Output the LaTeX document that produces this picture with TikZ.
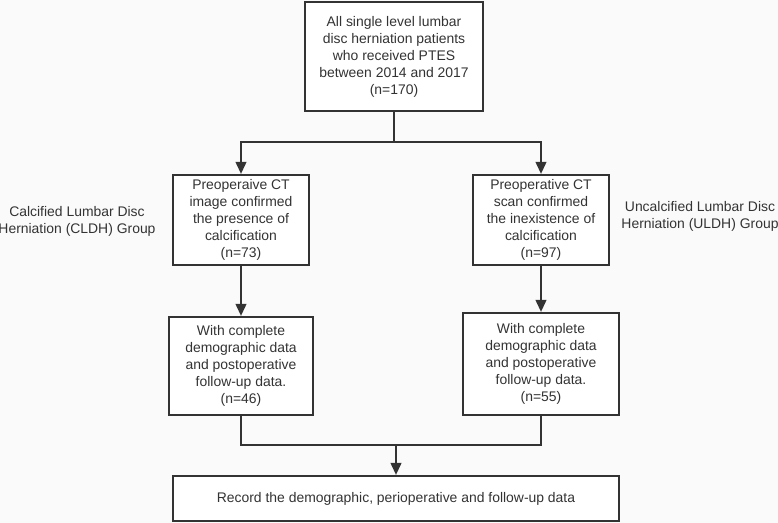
\documentclass[tikz,border=0pt]{standalone}
\usepackage{fontspec}
\setmainfont{Liberation Sans}
\usetikzlibrary{positioning,arrows.meta}
\definecolor{linegray}{HTML}{333333}
\definecolor{bggray}{HTML}{FAFAFA}

\begin{document}
\begin{tikzpicture}[x=0.025cm,y=-0.025cm,>={Triangle[length=8.5pt,width=7.5pt]},
  box/.style={draw=linegray,line width=1.5pt,fill=white,align=center,inner sep=2pt,
    text=linegray,font=\fontsize{9.9}{12.1}\selectfont},
  grouplabel/.style={align=center,text=linegray,font=\fontsize{9.9}{12.1}\selectfont},
  line/.style={draw=linegray,line width=1.5pt}]
  \fill[bggray] (0,0) rectangle (778,523);
  \useasboundingbox (0,0) rectangle (778,523);
  \node[box,minimum width=4.45cm,minimum height=2.725cm] (all) at (394,56.5)
    {All single level lumbar\\disc herniation patients\\who received PTES\\between 2014 and 2017\\(n=170)};
  \node[box,minimum width=3.4cm,minimum height=2.25cm] (cldh) at (241,220)
    {Preoperaive CT\\image confirmed\\the presence of\\calcification\\(n=73)};
  \node[box,minimum width=3.4cm,minimum height=2.25cm] (uldh) at (541,220)
    {Preoperative CT\\scan confirmed\\the inexistence of\\calcification\\(n=97)};
  \node[box,minimum width=3.6cm,minimum height=2.45cm] (cldhfu) at (241,366)
    {With complete\\demographic data\\and postoperative\\follow-up data.\\(n=46)};
  \node[box,minimum width=3.9cm,minimum height=2.55cm] (uldhfu) at (541,364)
    {With complete\\demographic data\\and postoperative\\follow-up data.\\(n=55)};
  \node[box,minimum width=11.15cm,minimum height=1.125cm] (record) at (396,498.5)
    {Record the demographic, perioperative and follow-up data};
  \node[grouplabel] (cldhlab) at (77,221) {Calcified Lumbar Disc\\Herniation (CLDH) Group};
  \node[grouplabel] (uldhlab) at (700,216.5) {Uncalcified Lumbar Disc\\Herniation (ULDH) Group};
  % connectors
  \coordinate (split) at (394,142);
  \coordinate (merge) at (396,445);
  \draw[line] (all) -- (split);
  \draw[line,->] (split) -| (cldh);
  \draw[line,->] (split) -| (uldh);
  \draw[line,->] (cldh) -- (cldhfu);
  \draw[line,->] (uldh) -- (uldhfu);
  \draw[line] (cldhfu) |- (merge) -| (uldhfu);
  \draw[line,->] (merge) -- (record);
\end{tikzpicture}
\end{document}
